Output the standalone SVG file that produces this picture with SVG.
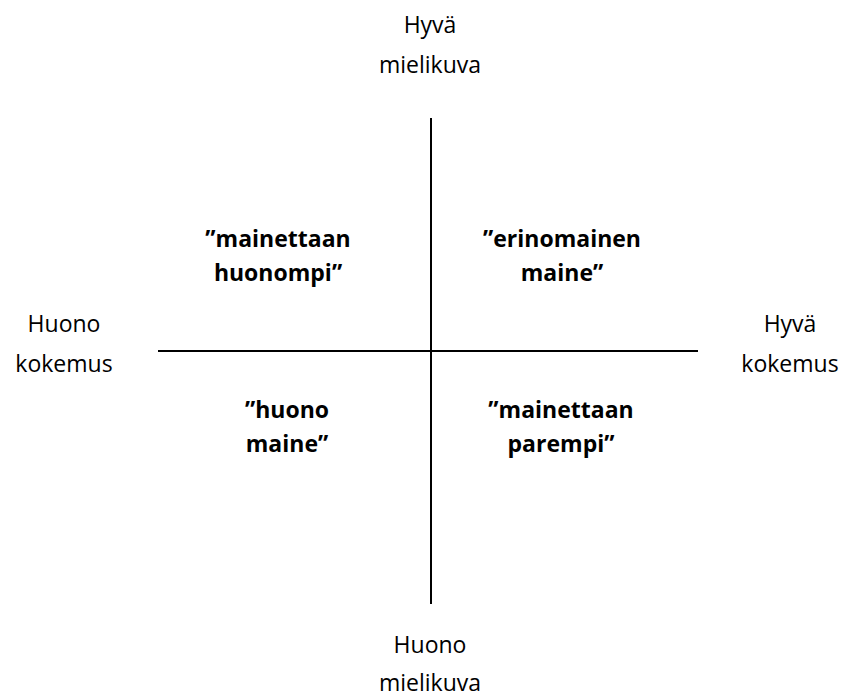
<svg xmlns="http://www.w3.org/2000/svg" width="848" height="699" viewBox="0 0 848 699">
<style>
.ax{font-family:"Open Sans","Liberation Sans",sans-serif;font-size:23px;fill:#000;text-anchor:middle}
.q{font-family:"Open Sans","Liberation Sans",sans-serif;font-size:23px;font-weight:bold;fill:#000;text-anchor:middle}
.ln{stroke:#000;stroke-width:2;fill:none}
</style>
<rect width="848" height="699" fill="#fff"/>
<g id="connectors">
<line class="ln" x1="431" y1="118" x2="431" y2="604"/>
<line class="ln" x1="158" y1="351" x2="698" y2="351"/>
</g>
<g id="top-label"><text class="ax" x="430" y="33">Hyvä</text><text class="ax" x="430" y="73">mielikuva</text></g>
<g id="bottom-label"><text class="ax" x="430" y="653">Huono</text><text class="ax" x="430" y="691">mielikuva</text></g>
<g id="left-label"><text class="ax" x="64" y="332">Huono</text><text class="ax" x="64" y="372">kokemus</text></g>
<g id="right-label"><text class="ax" x="790" y="332">Hyvä</text><text class="ax" x="790" y="372">kokemus</text></g>
<g id="q-top-left"><text class="q" x="278" y="247">”mainettaan</text><text class="q" x="278" y="281">huonompi”</text></g>
<g id="q-top-right"><text class="q" x="562" y="247">”erinomainen</text><text class="q" x="562" y="281">maine”</text></g>
<g id="q-bottom-left"><text class="q" x="287" y="418">”huono</text><text class="q" x="287" y="452">maine”</text></g>
<g id="q-bottom-right"><text class="q" x="561" y="418">”mainettaan</text><text class="q" x="561" y="452">parempi”</text></g>
</svg>
